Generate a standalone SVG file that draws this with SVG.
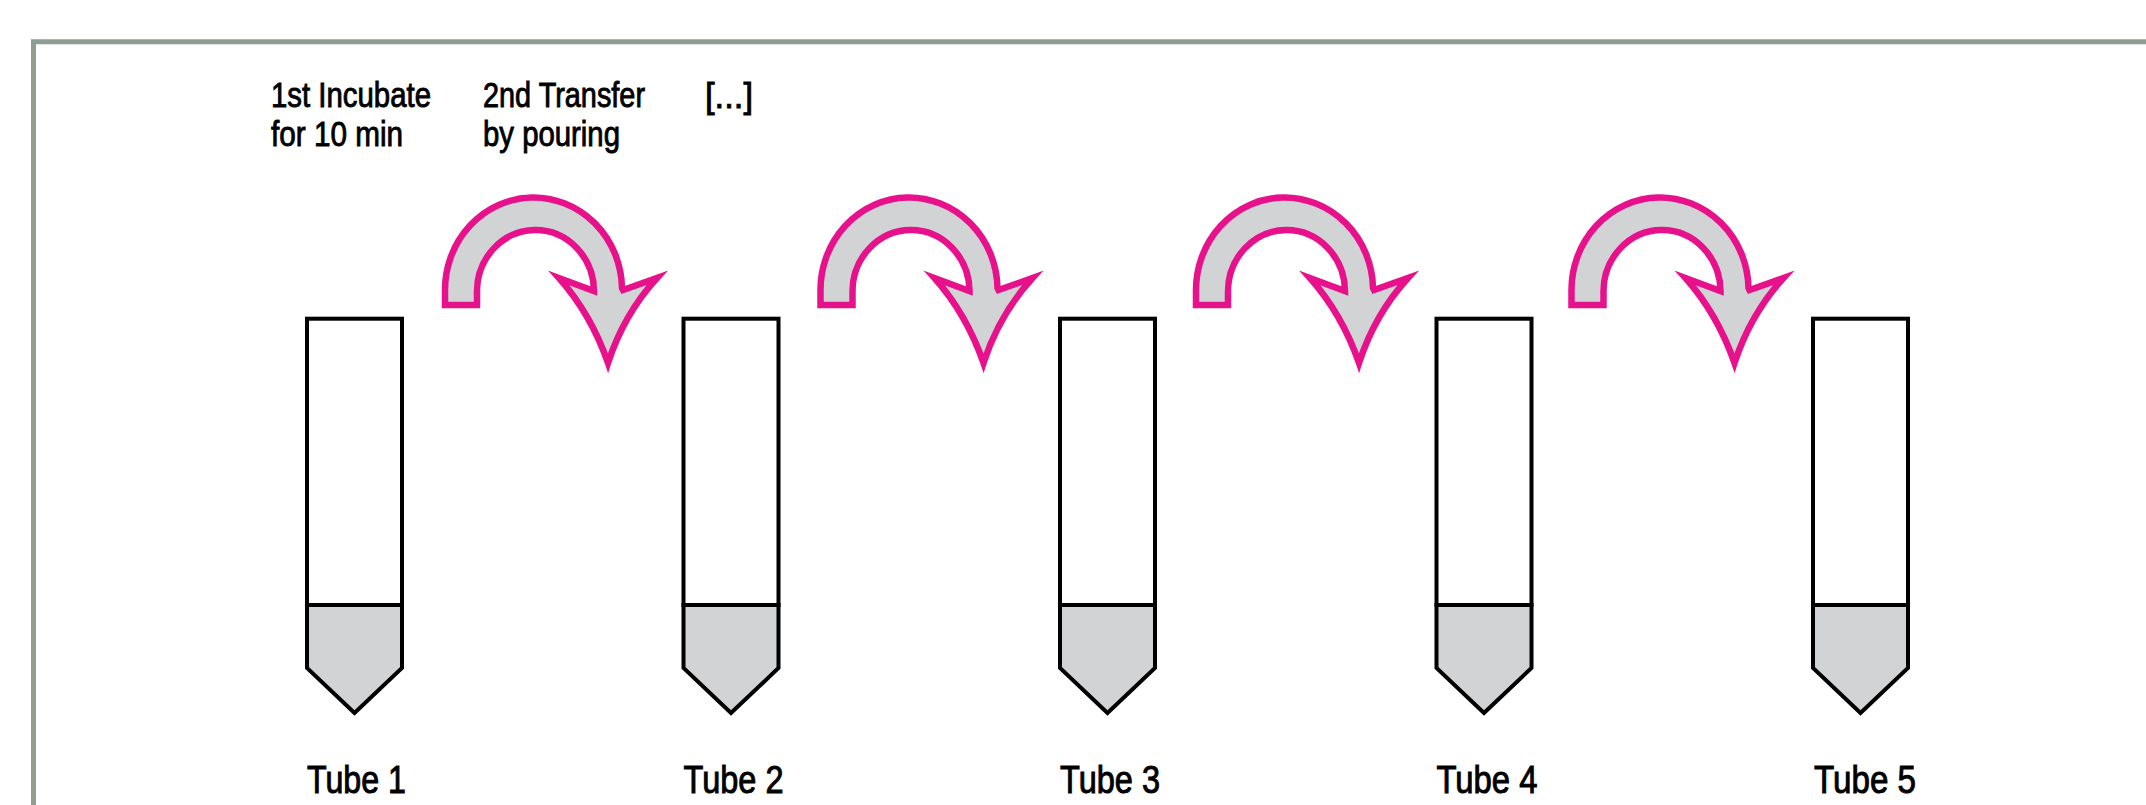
<svg xmlns="http://www.w3.org/2000/svg" xmlns:xlink="http://www.w3.org/1999/xlink" width="2146" height="805" viewBox="0 0 2146 805">
  <style>
    .frame { fill: none; stroke: #8f9d93; stroke-width: 5; }
    .tube { fill: #ffffff; stroke: #000000; stroke-width: 4; stroke-linejoin: miter; }
    .liquid { fill: #d1d3d4; stroke: #000000; stroke-width: 4; stroke-linejoin: miter; }
    .arrow { fill: #d1d3d4; stroke: #e8118c; stroke-width: 6.5; stroke-linejoin: miter; stroke-miterlimit: 12; }
    .lbl { font-family: "Liberation Sans Narrow", "Liberation Sans", Arial, sans-serif; fill: #000000; stroke: #000000; stroke-width: 0.9; }
    .step { font-size: 35px; }
    .tubelbl { font-size: 39px; stroke-width: 1; }
  </style>
  <defs>
    <path id="pour" class="arrow" d="M 445 305 L 445 292 A 88 92 0 0 1 622 288 L 623 290 L 657 278 Q 624 314 608 363 Q 591 314 559 278 L 594 291 A 58.5 61.5 0 0 0 477 292 L 477 305 Z"/>
  </defs>
  <rect x="0" y="0" width="2146" height="805" fill="#ffffff"/>
  <path class="frame" d="M 33.5 805 L 33.5 41.8 L 2146 41.8"/>

  <g id="steps">
    <text class="lbl step" x="271" y="107" textLength="160" lengthAdjust="spacingAndGlyphs">1st Incubate</text>
    <text class="lbl step" x="271" y="146" textLength="132" lengthAdjust="spacingAndGlyphs">for 10 min</text>
    <text class="lbl step" x="483" y="107" textLength="162" lengthAdjust="spacingAndGlyphs">2nd Transfer</text>
    <text class="lbl step" x="483" y="146" textLength="137" lengthAdjust="spacingAndGlyphs">by pouring</text>
    <text class="lbl step" x="705" y="108" font-size="39" textLength="48" lengthAdjust="spacingAndGlyphs">[...]</text>
  </g>

  <g id="tube1">
    <rect class="tube" x="307" y="318.7" width="95" height="286.3"/>
    <path class="liquid" d="M 307 605 L 402 605 L 402 668 L 354.5 713 L 307 668 Z"/>
    <text class="lbl tubelbl" x="307" y="793" textLength="99" lengthAdjust="spacingAndGlyphs">Tube 1</text>
  </g>
  <g id="tube2" transform="translate(376.5 0)">
    <rect class="tube" x="307" y="318.7" width="95" height="286.3"/>
    <path class="liquid" d="M 307 605 L 402 605 L 402 668 L 354.5 713 L 307 668 Z"/>
    <text class="lbl tubelbl" x="307" y="793" textLength="100" lengthAdjust="spacingAndGlyphs">Tube 2</text>
  </g>
  <g id="tube3" transform="translate(753 0)">
    <rect class="tube" x="307" y="318.7" width="95" height="286.3"/>
    <path class="liquid" d="M 307 605 L 402 605 L 402 668 L 354.5 713 L 307 668 Z"/>
    <text class="lbl tubelbl" x="307" y="793" textLength="100" lengthAdjust="spacingAndGlyphs">Tube 3</text>
  </g>
  <g id="tube4" transform="translate(1129.5 0)">
    <rect class="tube" x="307" y="318.7" width="95" height="286.3"/>
    <path class="liquid" d="M 307 605 L 402 605 L 402 668 L 354.5 713 L 307 668 Z"/>
    <text class="lbl tubelbl" x="307" y="793" textLength="101" lengthAdjust="spacingAndGlyphs">Tube 4</text>
  </g>
  <g id="tube5" transform="translate(1506 0)">
    <rect class="tube" x="307" y="318.7" width="95" height="286.3"/>
    <path class="liquid" d="M 307 605 L 402 605 L 402 668 L 354.5 713 L 307 668 Z"/>
    <text class="lbl tubelbl" x="308" y="793" textLength="102" lengthAdjust="spacingAndGlyphs">Tube 5</text>
  </g>

  <g id="connectors">
    <use xlink:href="#pour" href="#pour"/>
    <use xlink:href="#pour" href="#pour" transform="translate(375.5 0)"/>
    <use xlink:href="#pour" href="#pour" transform="translate(751 0)"/>
    <use xlink:href="#pour" href="#pour" transform="translate(1126.5 0)"/>
  </g>
</svg>
